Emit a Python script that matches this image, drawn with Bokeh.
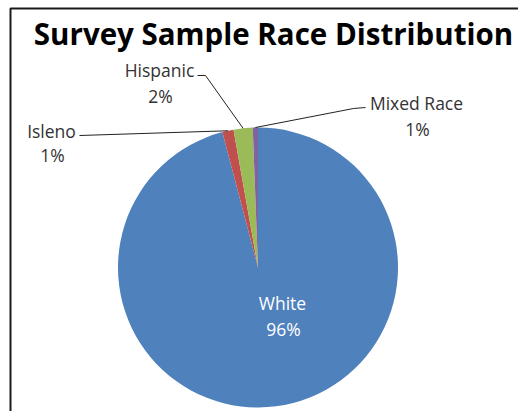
import math
from bokeh.plotting import figure
from bokeh.models import Range1d, ColumnDataSource
from bokeh.core.properties import value
from bokeh.embed import file_html
from bokeh.resources import INLINE

# ---- data ----
categories = ["White", "Isleno", "Hispanic", "Mixed Race"]
shares = [95.9, 1.3, 2.2, 0.6]
colors = ["#4F81BD", "#C0504D", "#9BBB59", "#8064A2"]
title_text = "Survey Sample Race Distribution"

W, H = 518, 411
FONT = "Open Sans"

p = figure(width=W, height=H, output_backend="svg", toolbar_location=None,
           x_range=Range1d(0, W), y_range=Range1d(0, H),
           x_axis_type=None, y_axis_type=None, min_border=0)
p.outline_line_color = None
p.grid.visible = False
p.background_fill_color = "white"
p.border_fill_color = "white"

def Y(py):
    return H - py

# chart border
p.quad(left=[10], right=[W + 20], bottom=[Y(H + 20)], top=[Y(8)],
       fill_color=None, line_color="#1a1a1a", line_width=2)

# pie
cx, cy, R = 257.5, Y(267), 140
total = sum(shares)
starts, ends, mids = [], [], []
c = 0.0
for s in shares:
    f0 = c / total
    c += s
    f1 = c / total
    starts.append(math.pi / 2 - 2 * math.pi * f0)
    ends.append(math.pi / 2 - 2 * math.pi * f1)
    mids.append(math.pi / 2 - 2 * math.pi * (f0 + f1) / 2)

src = ColumnDataSource(dict(start=starts, end=ends, color=colors))
p.wedge(x=cx, y=cy, radius=R, start_angle="start", end_angle="end",
        direction="clock", fill_color="color", line_color=None, source=src)

pct = [f"{round(s / total * 100)}%" for s in shares]

# outer labels: (name pos, pct pos, elbow points)
label_layout = {
    "Isleno":     dict(name=(51, 130), pc=(52, 154), elbow=[(79, 135)]),
    "Hispanic":   dict(name=(159, 69), pc=(160, 95), elbow=[(197, 75), (205, 75)]),
    "Mixed Race": dict(name=(416, 102), pc=(417, 128), elbow=[(365, 107), (353, 108)]),
}

LC = "#333333"
FS = "17.5px"
for i, cat in enumerate(categories):
    if cat in label_layout:
        lay = label_layout[cat]
        ex = cx + R * math.cos(mids[i])
        ey = cy + R * math.sin(mids[i])
        xs = [pt[0] for pt in lay["elbow"]] + [ex]
        ys = [Y(pt[1]) for pt in lay["elbow"]] + [ey]
        p.line(xs, ys, line_color="#222222", line_width=1)
        p.text(x=[lay["name"][0]], y=[Y(lay["name"][1])], text=[cat],
               text_font=value(FONT), text_font_size=FS, text_color=LC,
               text_align="center", text_baseline="middle")
        p.text(x=[lay["pc"][0]], y=[Y(lay["pc"][1])], text=[pct[i]],
               text_font=value(FONT), text_font_size=FS, text_color=LC,
               text_align="center", text_baseline="middle")
    else:
        p.text(x=[282], y=[Y(302)], text=[cat],
               text_font=value(FONT), text_font_size=FS, text_color="white",
               text_align="center", text_baseline="middle")
        p.text(x=[283], y=[Y(328)], text=[pct[i]],
               text_font=value(FONT), text_font_size=FS, text_color="white",
               text_align="center", text_baseline="middle")

# title
p.text(x=[273], y=[Y(33)], text=[title_text], text_font=value(FONT),
       text_font_size="29.5px", text_font_style="bold", text_color="#000000",
       text_align="center", text_baseline="middle")

open("out.html", "w").write(file_html(p, INLINE))
